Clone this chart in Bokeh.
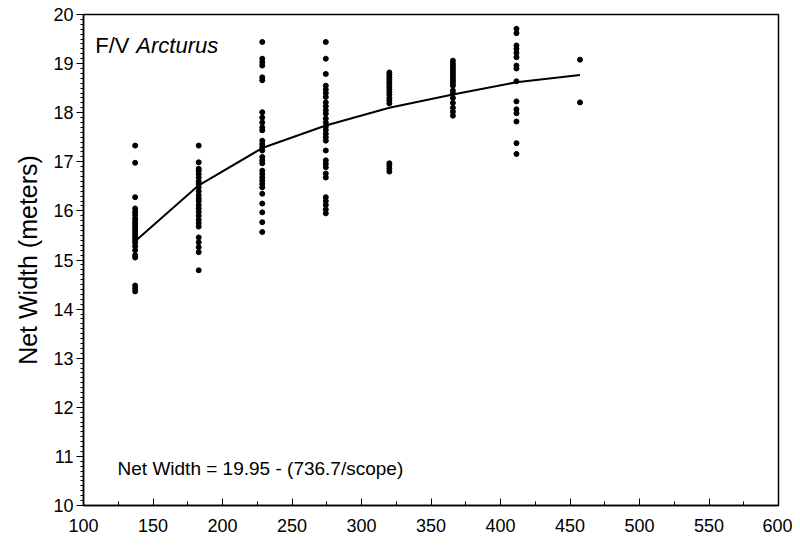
from bokeh.plotting import figure
from bokeh.models import Label, SingleIntervalTicker, ColumnDataSource
from bokeh.embed import file_html
from bokeh.resources import INLINE

# Scope levels (meters)
scope_levels = [137.16, 182.88, 228.6, 274.32, 320.04, 365.76, 411.48, 457.2]

# Observed net widths at each scope level
w137 = [17.33, 16.98, 16.28, 16.05, 15.98, 15.92, 15.85, 15.8, 15.75, 15.7, 15.65,
        15.6, 15.55, 15.5, 15.45, 15.4, 15.35, 15.28, 15.2, 15.1, 15.05,
        14.48, 14.42, 14.36]
w183 = [17.33, 16.99, 16.86, 16.82, 16.75, 16.68, 16.6, 16.55, 16.48, 16.4, 16.32,
        16.25, 16.2, 16.12, 16.05, 15.98, 15.9, 15.82, 15.75, 15.68,
        15.46, 15.36, 15.26, 15.16, 14.79]
w229 = [19.44, 19.1, 19.03, 18.96, 18.72, 18.66, 18.01, 17.9, 17.8, 17.7, 17.64,
        17.43, 17.36, 17.3, 17.23, 17.1, 17.03, 16.97, 16.82, 16.75, 16.68,
        16.62, 16.55, 16.48, 16.35, 16.15, 15.97, 15.77, 15.57]
w274 = [19.44, 19.1, 18.79, 18.55, 18.47, 18.4, 18.32, 18.21, 18.13, 18.05, 17.98,
        17.88, 17.8, 17.72, 17.65, 17.57, 17.5, 17.43, 17.23, 17.03, 16.96, 16.89,
        16.76, 16.68, 16.28, 16.2, 16.12, 16.03, 15.95]
w320 = [18.82, 18.77, 18.72, 18.67, 18.62, 18.57, 18.52, 18.47, 18.42, 18.37,
        18.3, 18.25, 18.19, 16.97, 16.92, 16.86, 16.8]
w366 = [19.06, 19.0, 18.95, 18.9, 18.85, 18.8, 18.75, 18.7, 18.65, 18.6, 18.55,
        18.45, 18.39, 18.3, 18.2, 18.1, 18.02, 17.94]
w411 = [19.71, 19.62, 19.37, 19.3, 19.22, 19.13, 18.96, 18.9, 18.64, 18.23,
        18.07, 17.99, 17.82, 17.38, 17.16]
w457 = [19.08, 18.21]

# Fitted curve read at each scope level
fit_y = [15.38, 16.52, 17.28, 17.74, 18.1, 18.37, 18.62, 18.77]

groups = [w137, w183, w229, w274, w320, w366, w411, w457]
xs, ys = [], []
for sx, g in zip(scope_levels, groups):
    xs += [sx] * len(g)
    ys += g
src = ColumnDataSource(dict(x=xs, y=ys))

FONT = "Liberation Sans"

p = figure(width=792, height=538, x_range=(100, 600), y_range=(10, 20),
           output_backend="svg", toolbar_location=None,
           min_border_left=83, min_border_right=14, min_border_top=14,
           min_border_bottom=33)
p.grid.visible = False
p.outline_line_color = "black"
p.outline_line_width = 1.5
p.background_fill_color = "white"
p.border_fill_color = "white"

p.scatter("x", "y", source=src, size=5, color="black")
p.line(scope_levels, fit_y, line_color="black", line_width=2)

# X axis
xa = p.xaxis[0]
xa.ticker = SingleIntervalTicker(interval=50, num_minor_ticks=2)
xa.axis_line_color = "black"
xa.axis_line_width = 1.5
xa.major_tick_in = 7
xa.major_tick_out = 0
xa.minor_tick_in = 4
xa.minor_tick_out = 0
xa.major_tick_line_color = "black"
xa.minor_tick_line_color = "black"
xa.major_label_text_font = FONT
xa.major_label_text_font_size = "18px"
xa.major_label_text_color = "black"
xa.major_label_standoff = 13

# Y axis
ya = p.yaxis[0]
ya.ticker = SingleIntervalTicker(interval=1, num_minor_ticks=10)
ya.axis_line_color = "black"
ya.axis_line_width = 1.5
ya.major_tick_in = 0
ya.major_tick_out = 7
ya.minor_tick_in = 0
ya.minor_tick_out = 3
ya.major_tick_line_color = "black"
ya.minor_tick_line_color = "black"
ya.major_label_text_font = FONT
ya.major_label_text_font_size = "18px"
ya.major_label_text_color = "black"
ya.major_label_standoff = 3
ya.axis_label = "Net Width (meters)"
ya.axis_label_text_font = FONT
ya.axis_label_text_font_style = "normal"
ya.axis_label_text_font_size = "25px"
ya.axis_label_text_color = "black"
ya.axis_label_standoff = 8

p.add_layout(Label(x=108.5, y=19.37, text="F/V", text_font=FONT,
                   text_font_size="22px", text_color="black",
                   text_baseline="alphabetic"))
p.add_layout(Label(x=138.0, y=19.37, text="Arcturus", text_font=FONT,
                   text_font_size="22px", text_font_style="italic",
                   text_color="black", text_baseline="alphabetic"))
p.add_layout(Label(x=124.5, y=10.76, text="Net Width = 19.95 - (736.7/scope)",
                   text_font=FONT, text_font_size="19px", text_color="black",
                   text_baseline="alphabetic"))

open("out.html", "w").write(file_html(p, INLINE))
